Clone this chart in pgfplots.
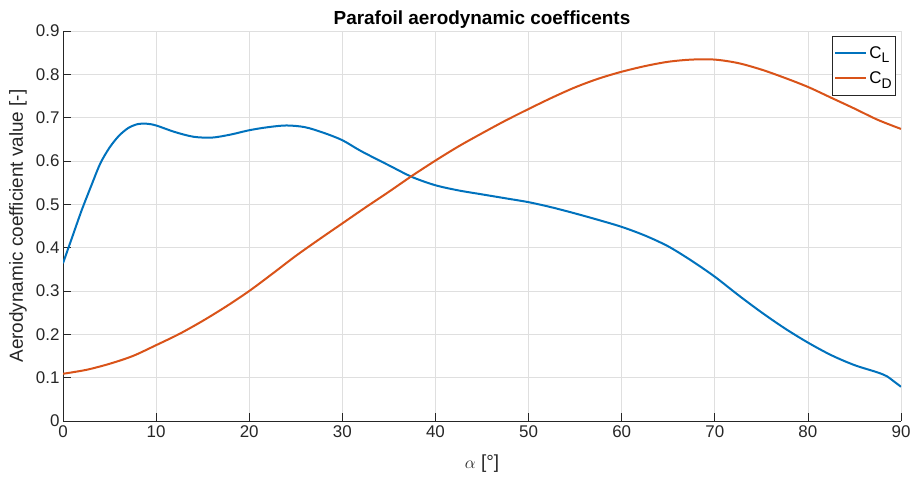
\documentclass[border=0pt]{standalone}
\usepackage{fontspec}
\setmainfont{Liberation Sans}
\usepackage{pgfplots}
\pgfplotsset{compat=1.18}
\definecolor{mblue}{rgb}{0,0.447,0.741}
\definecolor{morange}{rgb}{0.850,0.325,0.098}
\definecolor{gridgray}{RGB}{223,223,223}
\definecolor{axgray}{RGB}{38,38,38}
\begin{document}
\begin{tikzpicture}
\useasboundingbox (-63bp,-58bp) rectangle (851bp,421bp);
\begin{axis}[
  at={(0,0)}, anchor=south west,
  scale only axis, width=838bp, height=390bp,
  xmin=0, xmax=90, ymin=0, ymax=0.9,
  xtick={0,10,...,90},
  ytick={0,0.1,0.2,0.3,0.4,0.5,0.6,0.7,0.8,0.9},
  scaled y ticks=false,
  axis x line*=bottom, axis y line*=left,
  axis line style={color=axgray, line width=0.7bp, -},
  tick align=inside,
  major tick length=8bp,
  tick style={color=axgray, line width=0.7bp},
  grid=major,
  major grid style={color=gridgray, line width=0.7bp},
  /pgf/number format/assume math mode=true,
  ticklabel style={font=\fontsize{17}{20}\selectfont, text=axgray},
  xticklabel style={yshift=-1bp},
  every axis title shift=0pt,
  title={\textbf{Parafoil aerodynamic coefficents}},
  title style={font=\fontsize{19}{22}\selectfont, at={(axis description cs:0.5,1.0154)}, anchor=base, yshift=0pt},
  xlabel={$\alpha$ [°]},
  xlabel style={font=\fontsize{19}{22}\selectfont, text=axgray, at={(axis description cs:0.5,-0.108)}, anchor=center},
  ylabel={Aerodynamic coefficient value [-]},
  ylabel style={font=\fontsize{19}{22}\selectfont, text=axgray, at={(axis description cs:-0.0537,0.5)}, anchor=center},
  legend style={at={(axis description cs:0.994,0.987)}, anchor=north east,
    draw=axgray, line width=0.7bp, fill=white, font=\fontsize{17}{20}\selectfont,
    inner xsep=2bp, inner ysep=8bp, row sep=8bp, legend cell align=left},
  legend image code/.code={\draw[#1] (0bp,0bp) -- (31bp,0bp);},
]
\addplot[mblue, line width=2bp, smooth] coordinates {
(0,0.364) (1,0.425) (2,0.486) (3,0.541) (4,0.594) (5,0.631) (6,0.658) (7,0.676)
(8,0.685) (9,0.686) (10,0.682) (12,0.667) (14,0.656) (16,0.654) (18,0.661)
(20,0.671) (22,0.678) (24,0.682) (26,0.678) (28,0.665) (30,0.648) (32,0.623)
(35,0.590) (37.5,0.563) (40,0.544) (42.5,0.532) (45,0.523) (47.5,0.514) (50,0.505) (52.5,0.493)
(55,0.479) (57.5,0.464) (60,0.448) (62.5,0.428) (65,0.403) (67.5,0.370)
(70,0.333) (72.5,0.291) (75,0.251) (77.5,0.214) (80,0.181) (82.5,0.152)
(85,0.129) (87.5,0.112) (88.5,0.103) (89.2,0.092) (90,0.079)
};
\addlegendentry{C\raisebox{-0.5ex}{\fontsize{14}{14}\selectfont L}}
\addplot[morange, line width=2bp, smooth] coordinates {
(0,0.109) (2.5,0.118) (5,0.132) (7.5,0.150) (10,0.175) (12.5,0.201) (15,0.231)
(17.5,0.264) (20,0.300) (22.5,0.340) (25,0.381) (27.5,0.419) (30,0.456)
(32.5,0.493) (35,0.529) (37.5,0.566) (40,0.601) (42.5,0.634) (45,0.664) (47.5,0.693) (50,0.720)
(52.5,0.746) (55,0.770) (57.5,0.790) (60,0.806) (62.5,0.819) (65,0.829) (67.5,0.834)
(70,0.834) (72.5,0.826) (75,0.811) (77.5,0.792) (80,0.771) (82.5,0.746)
(85,0.721) (87.5,0.695) (90,0.674)
};
\addlegendentry{C\raisebox{-0.5ex}{\fontsize{14}{14}\selectfont D}}
\end{axis}
\end{tikzpicture}
\end{document}
